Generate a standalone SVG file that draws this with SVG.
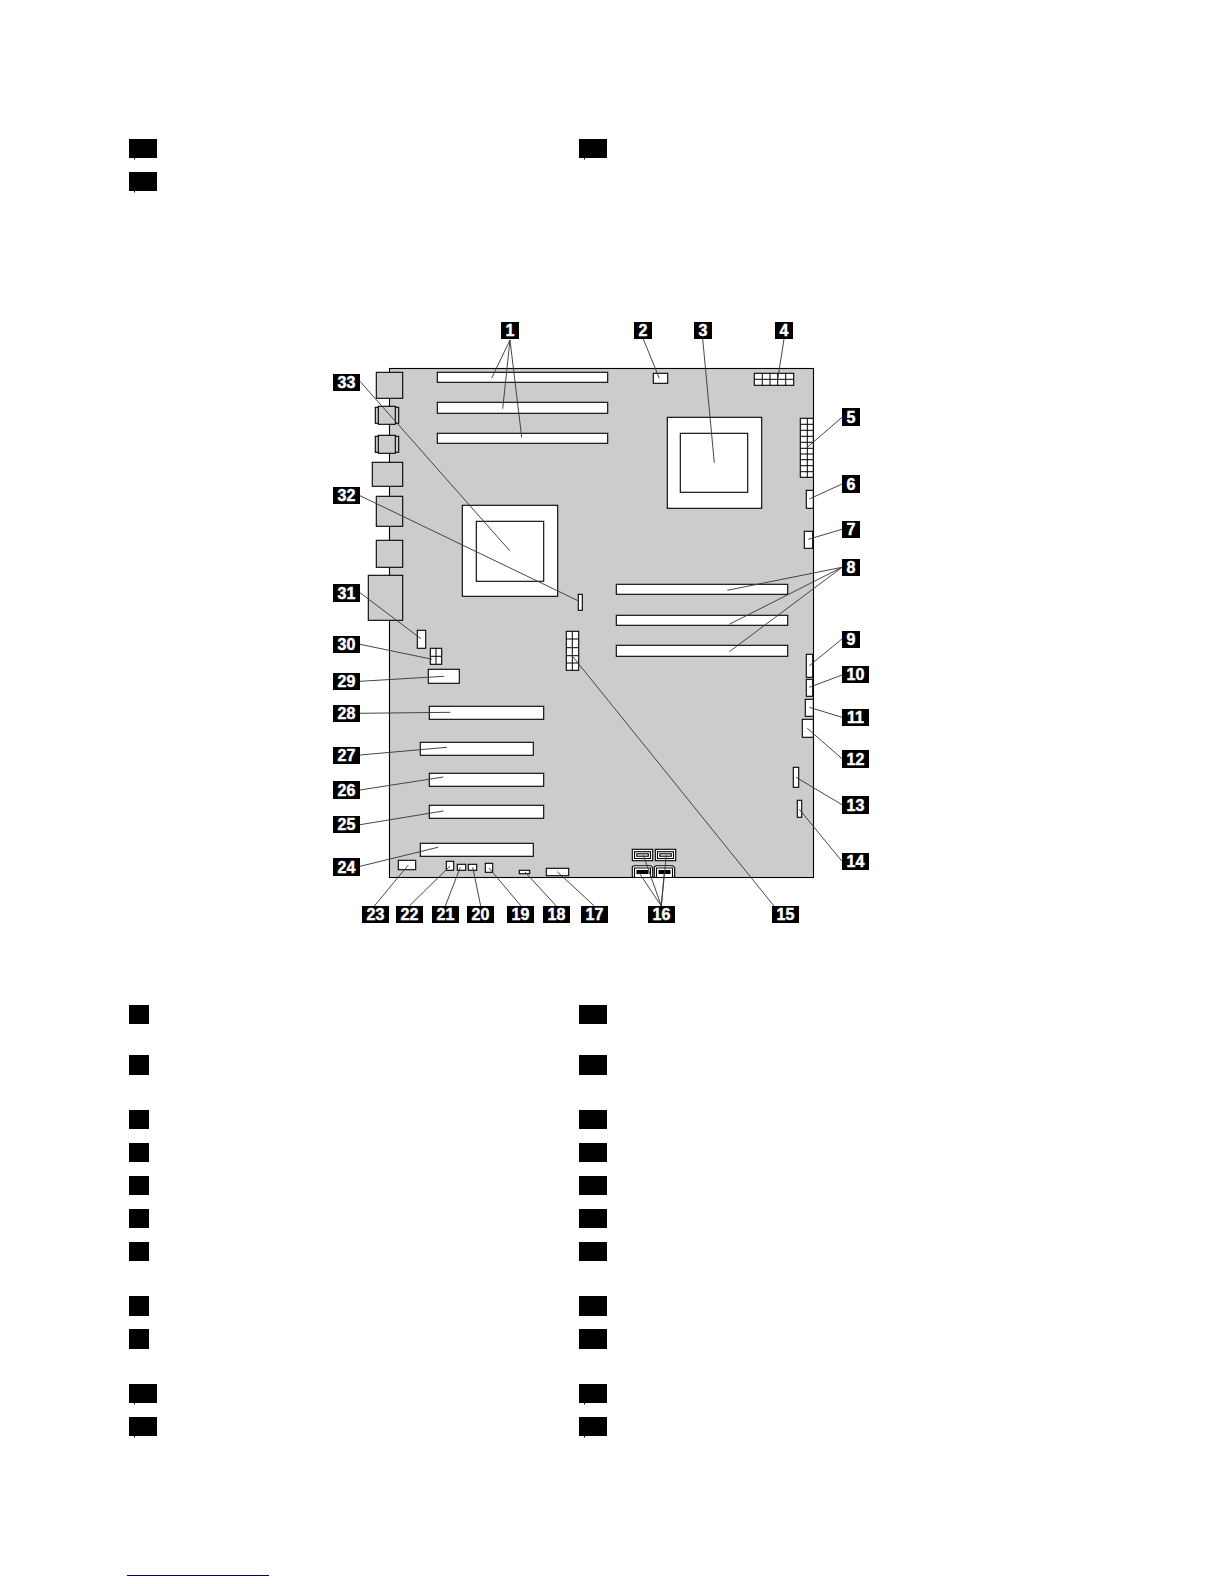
<svg xmlns="http://www.w3.org/2000/svg" width="1224" height="1584" viewBox="0 0 1224 1584">
<style>
.b{fill:#000}
.o{fill:#fff;stroke:#000;stroke-width:1.1}
.p{fill:#ccc;stroke:#000;stroke-width:1.1}
.g{fill:none;stroke:#000;stroke-width:1}
.t{fill:#fff;stroke:#fff;stroke-width:.45;font:bold 16px "Liberation Sans",Arial,sans-serif;text-anchor:middle}
#connectors line{stroke:#3c3c3c;stroke-width:.95}
</style>
<rect width="1224" height="1584" fill="#fff"/>
<g id="legend-top">
<rect class="b" x="129" y="139" width="28" height="19"/><rect class="b" x="134" y="158" width="1" height="1.5"/>
<rect class="b" x="579" y="139" width="28" height="19"/><rect class="b" x="584" y="158" width="1" height="1.5"/>
<rect class="b" x="129" y="172" width="28" height="19"/><rect class="b" x="134" y="191" width="1" height="1.5"/>
</g>
<g id="board">
<rect class="p" x="389.5" y="368.5" width="424" height="509"/>
<rect class="p" x="376.3" y="372.3" width="26.4" height="26"/>
<rect class="p" x="375.3" y="407.3" width="23.4" height="16"/><rect class="p" x="378.3" y="406.3" width="17" height="18"/>
<rect class="p" x="375.3" y="436.3" width="23.4" height="16"/><rect class="p" x="378.3" y="435.3" width="17" height="18"/>
<rect class="p" x="372.3" y="462.3" width="30.4" height="24"/>
<rect class="p" x="376.3" y="496.3" width="26.4" height="30"/>
<rect class="p" x="376.3" y="540.3" width="26.4" height="27"/>
<rect class="p" x="368.3" y="575.3" width="34.4" height="45"/>
<rect class="o" x="437.3" y="372.3" width="170.4" height="10"/>
<rect class="o" x="437.3" y="402.3" width="170.4" height="11"/>
<rect class="o" x="437.3" y="433.3" width="170.4" height="10"/>
<rect class="o" x="462.3" y="505.3" width="95.4" height="91"/><rect class="o" x="476.3" y="521.3" width="67.4" height="60"/>
<rect class="o" x="667.3" y="417.3" width="94.4" height="91"/><rect class="o" x="680.3" y="433.3" width="67.4" height="59"/>
<rect class="o" x="578.3" y="594.3" width="4" height="16"/>
<rect class="o" x="653.3" y="373.3" width="14.4" height="10"/>
<g id="conn4"><rect class="o" x="754.3" y="373.3" width="39.4" height="12"/><path class="g" d="M754.3 379.3H793.7M762.3 373.3V385.3M770 373.3V385.3M777.7 373.3V385.3M785.7 373.3V385.3"/></g>
<g id="conn5"><rect class="o" x="800.3" y="418.3" width="13" height="59"/><path class="g" d="M807.3 418.3V477.3M800.3 424.3H813.3M800.3 430.3H813.3M800.3 436.3H813.3M800.3 442.3H813.3M800.3 448.3H813.3M800.3 454H813.3M800.3 459.7H813.3M800.3 465.7H813.3M800.3 471.7H813.3"/></g>
<rect class="o" x="806.3" y="490.3" width="7" height="18"/>
<rect class="o" x="804.3" y="531.3" width="8.4" height="17"/>
<rect class="o" x="616.3" y="584.3" width="171.4" height="10"/>
<rect class="o" x="616.3" y="615.3" width="171.4" height="10"/>
<rect class="o" x="616.3" y="645.3" width="171.4" height="11"/>
<rect class="o" x="806.3" y="654.3" width="6.4" height="23"/>
<rect class="o" x="806.3" y="679.3" width="6.4" height="17"/>
<rect class="o" x="805.3" y="699.3" width="8" height="17"/>
<rect class="o" x="802.3" y="719.3" width="11" height="18"/>
<rect class="o" x="793.3" y="767.3" width="5.4" height="20"/>
<rect class="o" x="797.3" y="800.3" width="4.4" height="17"/>
<g id="sata">
<rect class="o" x="632.3" y="849.3" width="20.4" height="11.4"/><rect class="o" x="634.5" y="851.7" width="16" height="6.8"/><rect class="o" x="636.8" y="853.8" width="11.5" height="2.4" stroke-width="1.2"/>
<rect class="o" x="655.3" y="849.3" width="20.4" height="11.4"/><rect class="o" x="657.5" y="851.7" width="16" height="6.8"/><rect class="o" x="659.8" y="853.8" width="11.5" height="2.4" stroke-width="1.2"/>
<path class="o" d="M632.3 877.3V866.7L634 865.7H650.7L652.7 867.7V877.3Z"/><path class="o" d="M634.5 877V868H650.5V877"/><rect class="b" x="636.5" y="870" width="12" height="4"/>
<path class="o" d="M654.3 877.3V866.7L656 865.7H672.7L674.7 867.7V877.3Z"/><path class="o" d="M656.5 877V868H672.5V877"/><rect class="b" x="658.5" y="870" width="12" height="4"/>
</g>
<g id="conn15"><rect class="o" x="566.3" y="631.3" width="12.4" height="39"/><path class="g" d="M572.3 631.3V670.3M566.3 639H578.7M566.3 647.7H578.7M566.3 655.7H578.7M566.3 663H578.7"/></g>
<rect class="o" x="417.3" y="630.3" width="8.4" height="18"/>
<g id="conn30"><rect class="o" x="430.3" y="648.3" width="11.4" height="16"/><path class="g" d="M436 648.3V664.3M430.3 656.3H441.7"/></g>
<rect class="o" x="428.3" y="669.3" width="31" height="14"/>
<rect class="o" x="429.3" y="706.3" width="114.4" height="13"/>
<rect class="o" x="420.3" y="742.3" width="113" height="13"/>
<rect class="o" x="429.3" y="773.3" width="114.4" height="13"/>
<rect class="o" x="429.3" y="805.3" width="114.4" height="13"/>
<rect class="o" x="420.3" y="843.3" width="113" height="13"/>
<rect class="o" x="398.3" y="860.3" width="17.4" height="9.4"/>
<rect class="o" x="446.3" y="861.3" width="7.4" height="9"/>
<rect class="o" x="457.3" y="864.3" width="8.4" height="6"/>
<rect class="o" x="468.3" y="864.3" width="8.4" height="6"/>
<rect class="o" x="485.3" y="863.3" width="7.4" height="9"/>
<rect class="o" x="519.3" y="870.3" width="10.4" height="3.4"/>
<rect class="o" x="546.3" y="868.3" width="22.4" height="7.4"/>
</g>
<g id="connectors">
<line x1="510" y1="340" x2="491.7" y2="378"/><line x1="510" y1="340" x2="502.7" y2="408.7"/><line x1="510" y1="340" x2="521.7" y2="437.3"/>
<line x1="360" y1="381.3" x2="509.7" y2="550.7"/>
<line x1="360" y1="495.7" x2="579.3" y2="601.3"/>
<line x1="360" y1="592.7" x2="421" y2="638.7"/>
<line x1="643.3" y1="339" x2="659.3" y2="378.3"/>
<line x1="702.7" y1="339" x2="714.3" y2="462.7"/>
<line x1="784" y1="339" x2="777.7" y2="379.3"/>
<line x1="842" y1="417.3" x2="807.3" y2="447.3"/>
<line x1="842" y1="484" x2="809.3" y2="499"/>
<line x1="842" y1="529.3" x2="808.3" y2="539.3"/>
<line x1="842" y1="567.3" x2="727.3" y2="590.3"/><line x1="842" y1="567.3" x2="729.3" y2="624.3"/><line x1="842" y1="567.3" x2="729.3" y2="651.7"/>
<line x1="842" y1="639" x2="809.3" y2="665.7"/>
<line x1="842" y1="675" x2="809.3" y2="687.3"/>
<line x1="842" y1="717.3" x2="809.3" y2="707.3"/>
<line x1="842" y1="758.7" x2="807.3" y2="728.3"/>
<line x1="842" y1="804.7" x2="796" y2="777.3"/>
<line x1="842" y1="861.3" x2="799.3" y2="809.3"/>
<line x1="774" y1="906" x2="572.3" y2="656"/>
<line x1="661.3" y1="906" x2="643.3" y2="855"/><line x1="661.3" y1="906" x2="666.3" y2="855"/><line x1="661.3" y1="906" x2="638.3" y2="871.7"/><line x1="661.3" y1="906" x2="664.3" y2="871.7"/>
<line x1="594.3" y1="906" x2="557.3" y2="871.7"/>
<line x1="556.3" y1="906" x2="525" y2="872"/>
<line x1="521" y1="906" x2="489" y2="868"/>
<line x1="480.7" y1="906" x2="472.7" y2="867.3"/>
<line x1="445.3" y1="906" x2="460.3" y2="867.3"/>
<line x1="409.3" y1="906" x2="450" y2="866"/>
<line x1="374.3" y1="906" x2="408.3" y2="865"/>
<line x1="360" y1="866.3" x2="438" y2="847.3"/>
<line x1="360" y1="824.7" x2="443.3" y2="811"/>
<line x1="360" y1="790" x2="443.3" y2="777"/>
<line x1="360" y1="755" x2="447" y2="747.3"/>
<line x1="360" y1="713.3" x2="450.3" y2="712.3"/>
<line x1="360" y1="681.3" x2="444" y2="676.3"/>
<line x1="360" y1="644.3" x2="432.3" y2="659.3"/>
</g>
<g id="n1"><rect class="b" x="501" y="322" width="18" height="17"/><text class="t" x="510" y="336">1</text></g>
<g id="n2"><rect class="b" x="634" y="322" width="18" height="17"/><text class="t" x="643" y="336">2</text></g>
<g id="n3"><rect class="b" x="694" y="322" width="18" height="17"/><text class="t" x="703" y="336">3</text></g>
<g id="n4"><rect class="b" x="775" y="322" width="18" height="17"/><text class="t" x="784" y="336">4</text></g>
<g id="n5"><rect class="b" x="842" y="408" width="18" height="18"/><text class="t" x="851" y="422.5">5</text></g>
<g id="n6"><rect class="b" x="842" y="475" width="18" height="18"/><text class="t" x="851" y="489.5">6</text></g>
<g id="n7"><rect class="b" x="842" y="521" width="18" height="17"/><text class="t" x="851" y="535">7</text></g>
<g id="n8"><rect class="b" x="842" y="559" width="18" height="17"/><text class="t" x="851" y="573">8</text></g>
<g id="n9"><rect class="b" x="842" y="631" width="18" height="17"/><text class="t" x="851" y="645">9</text></g>
<g id="n10"><rect class="b" x="842" y="666" width="27" height="17"/><text class="t" x="855.5" y="680">10</text></g>
<g id="n11"><rect class="b" x="842" y="709" width="27" height="17"/><text class="t" x="855.5" y="723">11</text></g>
<g id="n12"><rect class="b" x="842" y="750" width="27" height="18"/><text class="t" x="855.5" y="764.5">12</text></g>
<g id="n13"><rect class="b" x="842" y="796" width="27" height="18"/><text class="t" x="855.5" y="810.5">13</text></g>
<g id="n14"><rect class="b" x="842" y="853" width="27" height="17"/><text class="t" x="855.5" y="867">14</text></g>
<g id="n15"><rect class="b" x="772" y="906" width="27" height="17"/><text class="t" x="785.5" y="920">15</text></g>
<g id="n16"><rect class="b" x="648" y="906" width="27" height="17"/><text class="t" x="661.5" y="920">16</text></g>
<g id="n17"><rect class="b" x="581" y="906" width="27" height="17"/><text class="t" x="594.5" y="920">17</text></g>
<g id="n18"><rect class="b" x="543" y="906" width="27" height="17"/><text class="t" x="556.5" y="920">18</text></g>
<g id="n19"><rect class="b" x="507" y="906" width="27" height="17"/><text class="t" x="520.5" y="920">19</text></g>
<g id="n20"><rect class="b" x="467" y="906" width="27" height="17"/><text class="t" x="480.5" y="920">20</text></g>
<g id="n21"><rect class="b" x="432" y="906" width="27" height="17"/><text class="t" x="445.5" y="920">21</text></g>
<g id="n22"><rect class="b" x="396" y="906" width="27" height="17"/><text class="t" x="409.5" y="920">22</text></g>
<g id="n23"><rect class="b" x="362" y="906" width="27" height="17"/><text class="t" x="375.5" y="920">23</text></g>
<g id="n24"><rect class="b" x="333" y="858" width="27" height="18"/><text class="t" x="346.5" y="872.5">24</text></g>
<g id="n25"><rect class="b" x="333" y="816" width="27" height="17"/><text class="t" x="346.5" y="830">25</text></g>
<g id="n26"><rect class="b" x="333" y="781" width="27" height="18"/><text class="t" x="346.5" y="795.5">26</text></g>
<g id="n27"><rect class="b" x="333" y="747" width="27" height="17"/><text class="t" x="346.5" y="761">27</text></g>
<g id="n28"><rect class="b" x="333" y="705" width="27" height="17"/><text class="t" x="346.5" y="719">28</text></g>
<g id="n29"><rect class="b" x="333" y="673" width="27" height="17"/><text class="t" x="346.5" y="687">29</text></g>
<g id="n30"><rect class="b" x="333" y="636" width="27" height="17"/><text class="t" x="346.5" y="650">30</text></g>
<g id="n31"><rect class="b" x="333" y="584" width="27" height="18"/><text class="t" x="346.5" y="598.5">31</text></g>
<g id="n32"><rect class="b" x="333" y="487" width="27" height="17"/><text class="t" x="346.5" y="501">32</text></g>
<g id="n33"><rect class="b" x="333" y="374" width="27" height="17"/><text class="t" x="346.5" y="388">33</text></g>
<g id="legend-bottom">
<rect class="b" x="129" y="1005" width="20" height="19"/><rect class="b" x="579" y="1005" width="28" height="19"/>
<rect class="b" x="129" y="1055" width="20" height="20"/><rect class="b" x="579" y="1055" width="28" height="20"/>
<rect class="b" x="129" y="1110" width="20" height="19"/><rect class="b" x="579" y="1110" width="28" height="19"/>
<rect class="b" x="129" y="1143" width="20" height="19"/><rect class="b" x="579" y="1143" width="28" height="19"/>
<rect class="b" x="129" y="1176" width="20" height="19"/><rect class="b" x="579" y="1176" width="28" height="19"/>
<rect class="b" x="129" y="1209" width="20" height="19"/><rect class="b" x="579" y="1209" width="28" height="19"/>
<rect class="b" x="129" y="1242" width="20" height="19"/><rect class="b" x="579" y="1242" width="28" height="19"/>
<rect class="b" x="129" y="1296" width="20" height="20"/><rect class="b" x="579" y="1296" width="28" height="20"/>
<rect class="b" x="129" y="1329" width="20" height="20"/><rect class="b" x="579" y="1329" width="28" height="20"/>
<rect class="b" x="129" y="1384" width="28" height="19"/><rect class="b" x="134" y="1403" width="1" height="1.5"/><rect class="b" x="579" y="1384" width="28" height="19"/><rect class="b" x="584" y="1403" width="1" height="1.5"/>
<rect class="b" x="129" y="1417" width="28" height="19"/><rect class="b" x="134" y="1436" width="1" height="1.5"/><rect class="b" x="579" y="1417" width="28" height="19"/><rect class="b" x="584" y="1436" width="1" height="1.5"/>
</g>
<rect x="127" y="1575" width="142" height="1" fill="#000080"/>
</svg>
